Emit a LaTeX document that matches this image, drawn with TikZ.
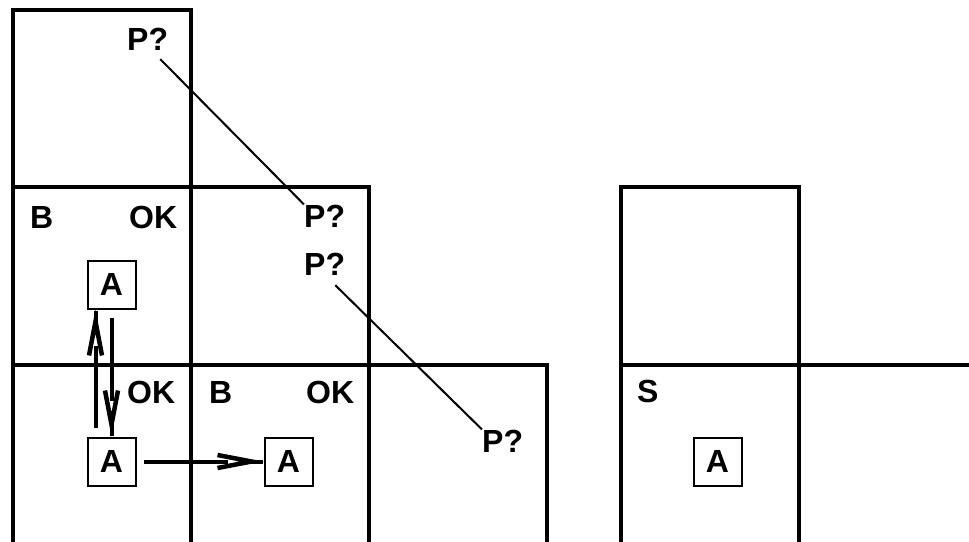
\documentclass[tikz,border=0pt]{standalone}
\usepackage{fontspec}
\setmainfont{Liberation Sans}
\usetikzlibrary{arrows.meta,calc}
\begin{document}
\begin{tikzpicture}[x=1pt,y=-1pt,
  wall/.style={line width=4.2pt, line join=miter, line cap=rect},
  lbl/.style={font=\fontsize{32}{38}\selectfont\bfseries, inner sep=0pt, anchor=base west},
  agent/.style={draw, line width=2pt, minimum width=48pt, minimum height=48pt, inner sep=0pt, font=\fontsize{32}{38}\selectfont\bfseries},
  shaft/.style={line width=4pt, shorten >=36pt},
  headtip/.style={line width=4pt, -{Straight Barb[length=34pt,width=13pt,line width=4.5pt 0]}},
  guess/.style={line width=2pt}]
\useasboundingbox (0,0) rectangle (969,541);
\clip (0,0) rectangle (969,541);
% left grid
\draw[wall] (13,10) rectangle (191,187);
\draw[wall] (13,187) rectangle (369,365);
\draw[wall] (191,187) -- (191,365);
\draw[wall] (13,550) -- (13,365) -- (547,365) -- (547,550);
\draw[wall] (191,365) -- (191,550);
\draw[wall] (369,365) -- (369,550);
% right grid
\draw[wall] (621,187) rectangle (799,365);
\draw[wall] (621,550) -- (621,365) -- (980,365);
\draw[wall] (799,365) -- (799,550);
% labels
\node[lbl] (p1) at (127,50) {P?};
\node[lbl] (b1) at (30,228) {B};
\node[lbl] (ok1) at (129,228) {OK};
\node[lbl] (p2) at (304,227) {P?};
\node[lbl] (p3) at (304,275) {P?};
\node[lbl] (ok2) at (127,403) {OK};
\node[lbl] (b2) at (209,403) {B};
\node[lbl] (ok3) at (306,403) {OK};
\node[lbl] (p4) at (482,452) {P?};
\node[lbl] (s) at (637,402) {S};
% agents
\node[agent] (a1) at (111.5,284.5) {A};
\node[agent] (a2) at (111.5,461.5) {A};
\node[agent] (a3) at (288.5,461.5) {A};
\node[agent] (a4) at (717.5,461.5) {A};
% move end points
\coordinate (u1) at ([xshift=-16pt,yshift=9pt]a2.north);
\coordinate (u2) at ([xshift=-16pt]a1.south);
\coordinate (d1) at ([yshift=-8pt]a1.south);
\coordinate (d2) at (a2.north);
\coordinate (r1) at ([xshift=7pt]a2.east);
\coordinate (r2) at (a3.west);
% moves
\draw[shaft] (u1) -- (u2);
\draw[headtip] ($(u2)!1pt!(u1)$) -- (u2);
\draw[shaft] (d1) -- (d2);
\draw[headtip] ($(d2)!1pt!(d1)$) -- (d2);
\draw[shaft] (r1) -- (r2);
\draw[headtip] ($(r2)!1pt!(r1)$) -- (r2);
% guesses
\draw[guess] ($(p1.south east)+(-8,9)$) -- (p2.north west);
\draw[guess] ($(p3.south east)+(-10,10)$) -- (p4.north west);
\end{tikzpicture}
\end{document}
